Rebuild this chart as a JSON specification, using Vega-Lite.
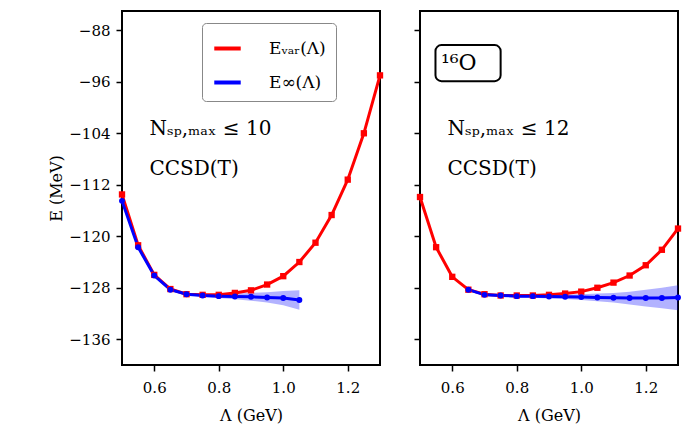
{
  "$schema": "https://vega.github.io/schema/vega-lite/v6.json",
  "background": "white",
  "padding": {"left": 47, "top": 10, "right": 5, "bottom": 5},
  "datasets": {
    "curves": [
      {"panel": "a", "series": "var", "lam": 0.5, "e": -113.5},
      {"panel": "a", "series": "var", "lam": 0.55, "e": -121.4},
      {"panel": "a", "series": "var", "lam": 0.6, "e": -126.0},
      {"panel": "a", "series": "var", "lam": 0.65, "e": -128.2},
      {"panel": "a", "series": "var", "lam": 0.7, "e": -129.0},
      {"panel": "a", "series": "var", "lam": 0.75, "e": -129.1},
      {"panel": "a", "series": "var", "lam": 0.8, "e": -129.1},
      {"panel": "a", "series": "var", "lam": 0.85, "e": -128.8},
      {"panel": "a", "series": "var", "lam": 0.9, "e": -128.4},
      {"panel": "a", "series": "var", "lam": 0.95, "e": -127.5},
      {"panel": "a", "series": "var", "lam": 1.0, "e": -126.2},
      {"panel": "a", "series": "var", "lam": 1.05, "e": -124.0},
      {"panel": "a", "series": "var", "lam": 1.1, "e": -121.0},
      {"panel": "a", "series": "var", "lam": 1.15, "e": -116.7},
      {"panel": "a", "series": "var", "lam": 1.2, "e": -111.2},
      {"panel": "a", "series": "var", "lam": 1.25, "e": -104.0},
      {"panel": "a", "series": "var", "lam": 1.3, "e": -95.0},
      {"panel": "a", "series": "inf", "lam": 0.5, "e": -114.5, "lo": -114.5, "hi": -114.5},
      {"panel": "a", "series": "inf", "lam": 0.55, "e": -121.7, "lo": -121.7, "hi": -121.7},
      {"panel": "a", "series": "inf", "lam": 0.6, "e": -126.1, "lo": -126.1, "hi": -126.1},
      {"panel": "a", "series": "inf", "lam": 0.65, "e": -128.3, "lo": -128.35, "hi": -128.25},
      {"panel": "a", "series": "inf", "lam": 0.7, "e": -129.0, "lo": -129.1, "hi": -128.9},
      {"panel": "a", "series": "inf", "lam": 0.75, "e": -129.2, "lo": -129.4, "hi": -129.0},
      {"panel": "a", "series": "inf", "lam": 0.8, "e": -129.3, "lo": -129.6, "hi": -129.0},
      {"panel": "a", "series": "inf", "lam": 0.85, "e": -129.35, "lo": -129.8, "hi": -128.9},
      {"panel": "a", "series": "inf", "lam": 0.9, "e": -129.4, "lo": -130.0, "hi": -128.8},
      {"panel": "a", "series": "inf", "lam": 0.95, "e": -129.5, "lo": -130.3, "hi": -128.7},
      {"panel": "a", "series": "inf", "lam": 1.0, "e": -129.6, "lo": -130.7, "hi": -128.5},
      {"panel": "a", "series": "inf", "lam": 1.05, "e": -129.9, "lo": -131.4, "hi": -128.4},
      {"panel": "b", "series": "var", "lam": 0.5, "e": -113.9},
      {"panel": "b", "series": "var", "lam": 0.55, "e": -121.7},
      {"panel": "b", "series": "var", "lam": 0.6, "e": -126.3},
      {"panel": "b", "series": "var", "lam": 0.65, "e": -128.3},
      {"panel": "b", "series": "var", "lam": 0.7, "e": -129.0},
      {"panel": "b", "series": "var", "lam": 0.75, "e": -129.2},
      {"panel": "b", "series": "var", "lam": 0.8, "e": -129.2},
      {"panel": "b", "series": "var", "lam": 0.85, "e": -129.2},
      {"panel": "b", "series": "var", "lam": 0.9, "e": -129.1},
      {"panel": "b", "series": "var", "lam": 0.95, "e": -128.9},
      {"panel": "b", "series": "var", "lam": 1.0, "e": -128.6},
      {"panel": "b", "series": "var", "lam": 1.05, "e": -128.0},
      {"panel": "b", "series": "var", "lam": 1.1, "e": -127.2},
      {"panel": "b", "series": "var", "lam": 1.15, "e": -126.1},
      {"panel": "b", "series": "var", "lam": 1.2, "e": -124.5},
      {"panel": "b", "series": "var", "lam": 1.25, "e": -122.1},
      {"panel": "b", "series": "var", "lam": 1.3, "e": -118.8},
      {"panel": "b", "series": "inf", "lam": 0.65, "e": -128.3, "lo": -128.3, "hi": -128.3},
      {"panel": "b", "series": "inf", "lam": 0.7, "e": -129.1, "lo": -129.2, "hi": -129.0},
      {"panel": "b", "series": "inf", "lam": 0.75, "e": -129.2, "lo": -129.35, "hi": -129.05},
      {"panel": "b", "series": "inf", "lam": 0.8, "e": -129.3, "lo": -129.5, "hi": -129.1},
      {"panel": "b", "series": "inf", "lam": 0.85, "e": -129.3, "lo": -129.55, "hi": -129.05},
      {"panel": "b", "series": "inf", "lam": 0.9, "e": -129.35, "lo": -129.65, "hi": -129.05},
      {"panel": "b", "series": "inf", "lam": 0.95, "e": -129.4, "lo": -129.75, "hi": -129.05},
      {"panel": "b", "series": "inf", "lam": 1.0, "e": -129.45, "lo": -129.9, "hi": -129.0},
      {"panel": "b", "series": "inf", "lam": 1.05, "e": -129.5, "lo": -130.1, "hi": -128.9},
      {"panel": "b", "series": "inf", "lam": 1.1, "e": -129.55, "lo": -130.3, "hi": -128.8},
      {"panel": "b", "series": "inf", "lam": 1.15, "e": -129.6, "lo": -130.6, "hi": -128.6},
      {"panel": "b", "series": "inf", "lam": 1.2, "e": -129.6, "lo": -130.9, "hi": -128.3},
      {"panel": "b", "series": "inf", "lam": 1.25, "e": -129.6, "lo": -131.2, "hi": -128.0},
      {"panel": "b", "series": "inf", "lam": 1.3, "e": -129.5, "lo": -131.5, "hi": -127.6}
    ],
    "notes": [
      {"panel": "a", "lam": 0.585, "e": -103.4, "txt": "Nₛₚ,ₘₐₓ ≤ 10", "italic": "yes"},
      {"panel": "a", "lam": 0.585, "e": -109.6, "txt": "CCSD(T)", "italic": "no"},
      {"panel": "b", "lam": 0.585, "e": -103.4, "txt": "Nₛₚ,ₘₐₓ ≤ 12", "italic": "yes"},
      {"panel": "b", "lam": 0.585, "e": -109.6, "txt": "CCSD(T)", "italic": "no"}
    ],
    "box": [{"x": 0.548, "x2": 0.75, "y": -90.3, "y2": -95.9, "lam": 0.565, "e": -93.1, "txt": "¹⁶O"}]
  },
  "config": {
    "font": "DejaVu Serif",
    "view": {"stroke": "black", "strokeWidth": 2},
    "axis": {
      "domain": false, "grid": false, "ticks": true, "tickColor": "black", "tickSize": 6, "tickWidth": 1.5,
      "labelFont": "DejaVu Serif", "titleFont": "DejaVu Serif", "labelOverlap": false, "labelBound": false,
      "labelFontSize": 15, "titleFontSize": 16, "labelColor": "black", "titleColor": "black",
      "titleFontWeight": "normal", "labelPadding": 6
    },
    "axisX": {"labelPadding": 9, "titlePadding": 12},
    "legend": {"labelFont": "DejaVu Serif"},
    "text": {"font": "DejaVu Serif"}
  },
  "resolve": {"scale": {"color": "shared"}},
  "spacing": 25,
  "hconcat": [
    {
      "width": 258, "height": 354,
      "layer": [
        {
          "data": {"name": "curves"},
          "transform": [{"filter": "datum.panel == 'a' && datum.series == 'inf'"}],
          "mark": {"type": "area", "color": "#0000ff", "opacity": 0.3},
          "encoding": {
            "x": {"field": "lam", "type": "quantitative", "scale": {"domain": [0.5, 1.3]},
              "axis": {"values": [0.6, 0.8, 1.0, 1.2], "format": ".1f", "title": "Λ (GeV)"}},
            "y": {"field": "lo", "type": "quantitative", "scale": {"domain": [-136, -88]},
              "axis": {"values": [-136, -128, -120, -112, -104, -96, -88], "format": "d", "title": "E (MeV)"}},
            "y2": {"field": "hi"}
          }
        },
        {
          "data": {"name": "curves"},
          "transform": [{"filter": "datum.panel == 'a'"}],
          "mark": {"type": "line", "strokeWidth": 3},
          "encoding": {
            "x": {"field": "lam", "type": "quantitative"},
            "y": {"field": "e", "type": "quantitative"},
            "color": {"field": "series", "type": "nominal",
              "scale": {"domain": ["var", "inf"], "range": ["#ff0000", "#0000ff"]},
              "legend": {"orient": "none", "legendX": 80, "legendY": 12, "title": null,
                "labelExpr": "datum.value == 'var' ? 'Eᵥₐᵣ(Λ)' : 'E∞(Λ)'",
                "labelFontSize": 17, "symbolType": "stroke", "symbolStrokeWidth": 4,
                "symbolSize": 700, "padding": 10, "rowPadding": 10, "labelOffset": 26,
                "strokeColor": "#888888", "fillColor": "white", "cornerRadius": 4}}
          }
        },
        {
          "data": {"name": "curves"},
          "transform": [{"filter": "datum.panel == 'a' && datum.series == 'var'"}],
          "mark": {"type": "square", "filled": true, "size": 40, "opacity": 1, "color": "#ff0000"},
          "encoding": {"x": {"field": "lam", "type": "quantitative"}, "y": {"field": "e", "type": "quantitative"}}
        },
        {
          "data": {"name": "curves"},
          "transform": [{"filter": "datum.panel == 'a' && datum.series == 'inf'"}],
          "mark": {"type": "circle", "size": 35, "opacity": 1, "color": "#0000ff"},
          "encoding": {"x": {"field": "lam", "type": "quantitative"}, "y": {"field": "e", "type": "quantitative"}}
        },
        {
          "data": {"name": "notes"},
          "transform": [{"filter": "datum.panel == 'a'"}],
          "mark": {"type": "text", "align": "left", "baseline": "middle", "fontSize": 20, "color": "black", "font": "DejaVu Serif"},
          "encoding": {"x": {"field": "lam", "type": "quantitative"}, "y": {"field": "e", "type": "quantitative"},
            "text": {"field": "txt"},
            "fontStyle": {"condition": {"test": "datum.italic == 'yes'", "value": "italic"}, "value": "normal"}}
        }
      ]
    },
    {
      "width": 258, "height": 354,
      "layer": [
        {
          "data": {"name": "curves"},
          "transform": [{"filter": "datum.panel == 'b' && datum.series == 'inf'"}],
          "mark": {"type": "area", "color": "#0000ff", "opacity": 0.3},
          "encoding": {
            "x": {"field": "lam", "type": "quantitative", "scale": {"domain": [0.5, 1.3]},
              "axis": {"values": [0.6, 0.8, 1.0, 1.2], "format": ".1f", "title": "Λ (GeV)"}},
            "y": {"field": "lo", "type": "quantitative", "scale": {"domain": [-136, -88]},
              "axis": {"values": [-136, -128, -120, -112, -104, -96, -88], "labels": false, "title": null}},
            "y2": {"field": "hi"}
          }
        },
        {
          "data": {"name": "curves"},
          "transform": [{"filter": "datum.panel == 'b'"}],
          "mark": {"type": "line", "strokeWidth": 3},
          "encoding": {
            "x": {"field": "lam", "type": "quantitative"},
            "y": {"field": "e", "type": "quantitative"},
            "color": {"field": "series", "type": "nominal", "legend": null}
          }
        },
        {
          "data": {"name": "curves"},
          "transform": [{"filter": "datum.panel == 'b' && datum.series == 'var'"}],
          "mark": {"type": "square", "filled": true, "size": 40, "opacity": 1, "color": "#ff0000"},
          "encoding": {"x": {"field": "lam", "type": "quantitative"}, "y": {"field": "e", "type": "quantitative"}}
        },
        {
          "data": {"name": "curves"},
          "transform": [{"filter": "datum.panel == 'b' && datum.series == 'inf'"}],
          "mark": {"type": "circle", "size": 35, "opacity": 1, "color": "#0000ff"},
          "encoding": {"x": {"field": "lam", "type": "quantitative"}, "y": {"field": "e", "type": "quantitative"}}
        },
        {
          "data": {"name": "notes"},
          "transform": [{"filter": "datum.panel == 'b'"}],
          "mark": {"type": "text", "align": "left", "baseline": "middle", "fontSize": 20, "color": "black", "font": "DejaVu Serif"},
          "encoding": {"x": {"field": "lam", "type": "quantitative"}, "y": {"field": "e", "type": "quantitative"},
            "text": {"field": "txt"},
            "fontStyle": {"condition": {"test": "datum.italic == 'yes'", "value": "italic"}, "value": "normal"}}
        },
        {
          "data": {"name": "box"},
          "mark": {"type": "rect", "fill": "white", "stroke": "black", "strokeWidth": 2, "cornerRadius": 6},
          "encoding": {"x": {"field": "x", "type": "quantitative"}, "x2": {"field": "x2"},
            "y": {"field": "y", "type": "quantitative"}, "y2": {"field": "y2"}}
        },
        {
          "data": {"name": "box"},
          "mark": {"type": "text", "align": "left", "baseline": "middle", "fontSize": 22, "color": "black", "font": "DejaVu Serif"},
          "encoding": {"x": {"field": "lam", "type": "quantitative"}, "y": {"field": "e", "type": "quantitative"},
            "text": {"field": "txt"}}
        }
      ]
    }
  ]
}
